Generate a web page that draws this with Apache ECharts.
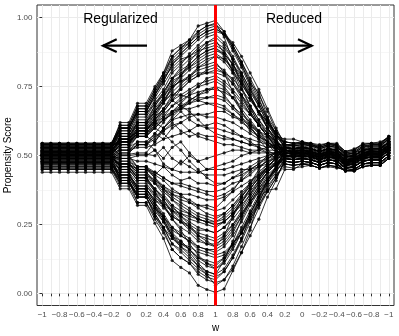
<!DOCTYPE html>
<html>
<head>
<meta charset="utf-8">
<script src="https://cdn.jsdelivr.net/npm/echarts@6/dist/echarts.min.js"></script>
<style>
  html, body { margin: 0; padding: 0; background: #fff; }
  #chart { width: 399px; height: 336px; }
</style>
</head>
<body>
<div id="chart"></div>
<script>
// w goes -1 -> 1 (regularized) then back 1 -> -1 (reduced)
const wValues = ['−1','−0.9','−0.8','−0.7','−0.6','−0.5','−0.4','−0.3','−0.2','−0.1','0','0.1','0.2','0.3','0.4','0.5','0.6','0.7','0.8','0.9','1',
  '0.9','0.8','0.7','0.6','0.5','0.4','0.3','0.2','0.1','0','−0.1','−0.2','−0.3','−0.4','−0.5','−0.6','−0.7','−0.8','−0.9','−1'];
const yTicks = [0, 0.25, 0.5, 0.75, 1];
const yMinor = [0.125, 0.375, 0.625, 0.875];

// propensity score per unit, one value per w step
const p01 = [0.54,0.54,0.54,0.54,0.54,0.54,0.54,0.54,0.54,0.62,0.62,0.69,0.69,0.75,0.80,0.88,0.90,0.92,0.97,0.98,0.99,0.95,0.89,0.83,0.76,0.73,0.64,0.57,0.56,0.56,0.55,0.54,0.53,0.54,0.54,0.50,0.51,0.53,0.54,0.54,0.57];
const p02 = [0.545,0.545,0.545,0.545,0.545,0.545,0.545,0.545,0.545,0.61,0.61,0.68,0.68,0.74,0.79,0.85,0.88,0.91,0.94,0.96,0.97,0.94,0.89,0.83,0.76,0.70,0.64,0.59,0.54,0.535,0.54,0.535,0.525,0.535,0.53,0.505,0.51,0.53,0.535,0.535,0.56];
const p03 = [0.53,0.53,0.53,0.53,0.53,0.53,0.53,0.53,0.53,0.60,0.60,0.66,0.66,0.72,0.78,0.84,0.87,0.90,0.93,0.95,0.96,0.94,0.88,0.82,0.75,0.69,0.63,0.58,0.53,0.525,0.53,0.525,0.515,0.525,0.52,0.50,0.50,0.52,0.525,0.525,0.545];
const p04 = [0.535,0.535,0.535,0.535,0.535,0.535,0.535,0.535,0.535,0.60,0.60,0.66,0.66,0.72,0.77,0.83,0.86,0.89,0.92,0.94,0.95,0.94,0.90,0.84,0.78,0.72,0.66,0.59,0.55,0.545,0.55,0.545,0.54,0.545,0.54,0.515,0.525,0.54,0.545,0.545,0.57];
const p05 = [0.52,0.52,0.52,0.52,0.52,0.52,0.52,0.52,0.52,0.55,0.55,0.59,0.59,0.64,0.69,0.75,0.79,0.84,0.88,0.91,0.93,0.90,0.85,0.79,0.72,0.66,0.60,0.55,0.50,0.495,0.50,0.495,0.485,0.495,0.49,0.465,0.47,0.49,0.495,0.495,0.52];
const p06 = [0.54,0.54,0.54,0.54,0.54,0.54,0.54,0.54,0.54,0.60,0.60,0.66,0.66,0.71,0.76,0.81,0.84,0.86,0.89,0.91,0.92,0.87,0.80,0.72,0.66,0.61,0.57,0.54,0.52,0.515,0.525,0.515,0.505,0.515,0.51,0.485,0.49,0.51,0.52,0.515,0.54];
const p07 = [0.525,0.525,0.525,0.525,0.525,0.525,0.525,0.525,0.525,0.60,0.60,0.67,0.67,0.73,0.78,0.82,0.85,0.86,0.88,0.89,0.90,0.88,0.83,0.78,0.71,0.66,0.60,0.56,0.51,0.505,0.51,0.505,0.495,0.51,0.50,0.475,0.48,0.50,0.505,0.50,0.53];
const p08 = [0.51,0.51,0.51,0.51,0.51,0.51,0.51,0.51,0.51,0.57,0.57,0.62,0.62,0.68,0.72,0.78,0.80,0.82,0.85,0.87,0.88,0.87,0.83,0.79,0.73,0.68,0.62,0.56,0.49,0.485,0.49,0.485,0.475,0.485,0.48,0.455,0.46,0.48,0.485,0.485,0.51];
const p09 = [0.53,0.53,0.53,0.53,0.53,0.53,0.53,0.53,0.53,0.56,0.56,0.59,0.59,0.63,0.67,0.71,0.75,0.78,0.82,0.84,0.86,0.84,0.80,0.76,0.71,0.66,0.62,0.58,0.54,0.535,0.54,0.545,0.525,0.535,0.53,0.505,0.51,0.52,0.535,0.535,0.56];
const p10 = [0.515,0.515,0.515,0.515,0.515,0.515,0.515,0.515,0.515,0.57,0.57,0.62,0.62,0.66,0.70,0.75,0.77,0.79,0.82,0.83,0.84,0.80,0.73,0.66,0.61,0.56,0.52,0.50,0.48,0.475,0.48,0.475,0.465,0.475,0.47,0.445,0.45,0.47,0.475,0.475,0.50];
const p11 = [0.52,0.52,0.52,0.52,0.52,0.52,0.52,0.52,0.52,0.59,0.59,0.65,0.65,0.69,0.72,0.75,0.77,0.78,0.80,0.80,0.81,0.80,0.78,0.74,0.70,0.66,0.62,0.58,0.53,0.525,0.53,0.525,0.515,0.525,0.51,0.495,0.50,0.52,0.525,0.525,0.55];
const p12 = [0.50,0.50,0.50,0.50,0.50,0.50,0.50,0.50,0.50,0.54,0.54,0.59,0.59,0.63,0.66,0.70,0.72,0.74,0.76,0.77,0.78,0.76,0.73,0.69,0.65,0.61,0.57,0.53,0.50,0.495,0.50,0.495,0.485,0.495,0.49,0.465,0.47,0.49,0.495,0.495,0.52];
const p13 = [0.535,0.535,0.535,0.535,0.535,0.535,0.535,0.535,0.535,0.55,0.55,0.57,0.57,0.60,0.63,0.65,0.68,0.70,0.72,0.74,0.75,0.72,0.68,0.64,0.60,0.57,0.55,0.53,0.52,0.515,0.52,0.515,0.505,0.515,0.51,0.485,0.49,0.51,0.515,0.515,0.54];
const p14 = [0.505,0.505,0.505,0.505,0.505,0.505,0.505,0.505,0.505,0.54,0.54,0.57,0.57,0.60,0.63,0.66,0.68,0.69,0.71,0.71,0.72,0.71,0.68,0.65,0.62,0.59,0.56,0.53,0.51,0.505,0.515,0.505,0.495,0.505,0.50,0.475,0.485,0.50,0.505,0.505,0.53];
const p15 = [0.52,0.52,0.52,0.52,0.52,0.52,0.52,0.52,0.52,0.56,0.56,0.60,0.60,0.62,0.64,0.66,0.67,0.67,0.68,0.69,0.69,0.68,0.65,0.63,0.59,0.57,0.54,0.51,0.49,0.485,0.49,0.485,0.475,0.485,0.48,0.455,0.46,0.48,0.485,0.485,0.51];
const p16 = [0.49,0.49,0.49,0.49,0.49,0.49,0.49,0.49,0.49,0.52,0.52,0.54,0.54,0.57,0.59,0.61,0.62,0.64,0.65,0.65,0.66,0.66,0.64,0.63,0.61,0.59,0.57,0.55,0.53,0.525,0.53,0.525,0.515,0.525,0.52,0.495,0.50,0.52,0.525,0.525,0.55];
const p17 = [0.51,0.51,0.51,0.51,0.51,0.51,0.51,0.51,0.51,0.52,0.52,0.53,0.53,0.54,0.56,0.57,0.58,0.59,0.61,0.61,0.62,0.61,0.59,0.57,0.55,0.53,0.51,0.49,0.47,0.465,0.47,0.465,0.455,0.465,0.46,0.445,0.445,0.46,0.465,0.465,0.49];
const p18 = [0.53,0.53,0.53,0.53,0.53,0.53,0.53,0.53,0.53,0.56,0.56,0.60,0.60,0.64,0.67,0.70,0.68,0.66,0.63,0.60,0.58,0.57,0.56,0.55,0.54,0.54,0.53,0.53,0.52,0.515,0.52,0.515,0.505,0.515,0.51,0.485,0.49,0.51,0.515,0.515,0.54];
const p19 = [0.50,0.50,0.50,0.50,0.50,0.50,0.50,0.50,0.50,0.52,0.52,0.55,0.55,0.58,0.56,0.60,0.62,0.59,0.57,0.56,0.55,0.54,0.54,0.53,0.52,0.52,0.51,0.51,0.50,0.495,0.50,0.495,0.485,0.495,0.49,0.465,0.47,0.49,0.495,0.495,0.52];
const p20 = [0.515,0.515,0.515,0.515,0.515,0.515,0.515,0.515,0.515,0.53,0.53,0.55,0.55,0.52,0.49,0.53,0.55,0.51,0.48,0.49,0.50,0.51,0.52,0.52,0.51,0.51,0.51,0.51,0.51,0.505,0.51,0.505,0.495,0.505,0.50,0.475,0.48,0.50,0.505,0.505,0.53];
const p21 = [0.48,0.48,0.48,0.48,0.48,0.48,0.48,0.48,0.48,0.50,0.50,0.505,0.505,0.50,0.53,0.49,0.47,0.50,0.48,0.45,0.46,0.47,0.48,0.50,0.51,0.52,0.53,0.54,0.54,0.535,0.54,0.535,0.525,0.535,0.53,0.505,0.51,0.53,0.535,0.535,0.56];
const p22 = [0.495,0.495,0.495,0.495,0.495,0.495,0.495,0.495,0.495,0.49,0.49,0.48,0.48,0.47,0.46,0.45,0.44,0.44,0.44,0.43,0.43,0.43,0.44,0.45,0.45,0.46,0.47,0.47,0.48,0.475,0.48,0.475,0.465,0.475,0.47,0.445,0.45,0.47,0.475,0.475,0.50];
const p23 = [0.525,0.525,0.525,0.525,0.525,0.525,0.525,0.525,0.525,0.55,0.55,0.58,0.58,0.60,0.58,0.55,0.52,0.48,0.45,0.42,0.40,0.40,0.42,0.43,0.45,0.47,0.49,0.51,0.53,0.525,0.53,0.525,0.515,0.525,0.52,0.495,0.50,0.52,0.525,0.525,0.55];
const p24 = [0.49,0.49,0.49,0.49,0.49,0.49,0.49,0.49,0.49,0.47,0.47,0.45,0.45,0.44,0.42,0.40,0.40,0.39,0.38,0.37,0.37,0.38,0.40,0.41,0.44,0.46,0.48,0.49,0.51,0.51,0.51,0.505,0.495,0.505,0.50,0.475,0.48,0.495,0.505,0.505,0.53];
const p25 = [0.505,0.505,0.505,0.505,0.505,0.505,0.505,0.505,0.505,0.46,0.46,0.43,0.43,0.41,0.39,0.37,0.36,0.36,0.35,0.34,0.34,0.35,0.37,0.39,0.41,0.43,0.45,0.47,0.49,0.485,0.49,0.485,0.475,0.485,0.48,0.455,0.46,0.48,0.485,0.485,0.51];
const p26 = [0.475,0.475,0.475,0.475,0.475,0.475,0.475,0.475,0.475,0.45,0.45,0.42,0.42,0.40,0.38,0.36,0.35,0.34,0.32,0.32,0.31,0.34,0.37,0.42,0.45,0.47,0.50,0.51,0.52,0.515,0.52,0.515,0.505,0.515,0.51,0.485,0.49,0.51,0.515,0.515,0.54];
const p27 = [0.50,0.50,0.50,0.50,0.50,0.50,0.50,0.50,0.50,0.48,0.48,0.46,0.46,0.43,0.41,0.38,0.36,0.33,0.31,0.29,0.28,0.29,0.32,0.35,0.39,0.42,0.45,0.47,0.50,0.495,0.50,0.495,0.485,0.495,0.49,0.465,0.47,0.49,0.495,0.495,0.52];
const p28 = [0.485,0.485,0.485,0.485,0.485,0.485,0.485,0.485,0.485,0.45,0.45,0.41,0.41,0.38,0.35,0.32,0.30,0.29,0.27,0.26,0.25,0.26,0.29,0.32,0.36,0.41,0.45,0.50,0.55,0.545,0.55,0.545,0.535,0.545,0.54,0.515,0.52,0.54,0.545,0.545,0.57];
const p29 = [0.51,0.51,0.51,0.51,0.51,0.51,0.51,0.51,0.51,0.44,0.44,0.38,0.38,0.34,0.31,0.28,0.26,0.25,0.23,0.23,0.22,0.24,0.27,0.31,0.36,0.40,0.44,0.47,0.51,0.505,0.51,0.50,0.495,0.505,0.50,0.475,0.48,0.50,0.51,0.505,0.53];
const p30 = [0.47,0.47,0.47,0.47,0.47,0.47,0.47,0.47,0.47,0.43,0.43,0.39,0.39,0.35,0.32,0.28,0.26,0.24,0.22,0.21,0.20,0.22,0.25,0.29,0.33,0.37,0.41,0.45,0.48,0.475,0.48,0.475,0.465,0.475,0.47,0.445,0.45,0.47,0.475,0.475,0.50];
const p31 = [0.495,0.495,0.495,0.495,0.495,0.495,0.495,0.495,0.495,0.47,0.47,0.44,0.44,0.40,0.36,0.32,0.28,0.25,0.21,0.19,0.17,0.21,0.28,0.35,0.40,0.45,0.49,0.51,0.53,0.525,0.53,0.525,0.515,0.525,0.52,0.495,0.50,0.52,0.525,0.525,0.55];
const p32 = [0.48,0.48,0.48,0.48,0.48,0.48,0.48,0.48,0.48,0.43,0.43,0.38,0.38,0.33,0.29,0.24,0.22,0.20,0.17,0.16,0.15,0.17,0.21,0.26,0.32,0.37,0.42,0.46,0.50,0.495,0.50,0.495,0.485,0.495,0.49,0.465,0.47,0.49,0.495,0.495,0.52];
const p33 = [0.50,0.50,0.50,0.50,0.50,0.50,0.50,0.50,0.50,0.41,0.41,0.33,0.33,0.28,0.24,0.20,0.18,0.17,0.15,0.14,0.13,0.14,0.18,0.22,0.28,0.33,0.40,0.45,0.52,0.515,0.52,0.515,0.505,0.515,0.51,0.485,0.49,0.51,0.515,0.515,0.54];
const p34 = [0.46,0.46,0.46,0.46,0.46,0.46,0.46,0.46,0.46,0.40,0.40,0.35,0.35,0.30,0.26,0.21,0.18,0.16,0.13,0.12,0.11,0.13,0.18,0.23,0.29,0.35,0.40,0.44,0.49,0.485,0.49,0.485,0.475,0.485,0.48,0.455,0.46,0.48,0.485,0.485,0.51];
const p35 = [0.49,0.49,0.49,0.49,0.49,0.49,0.49,0.49,0.49,0.46,0.46,0.42,0.42,0.37,0.32,0.27,0.23,0.18,0.14,0.11,0.09,0.12,0.17,0.22,0.29,0.35,0.41,0.46,0.51,0.505,0.51,0.505,0.495,0.505,0.50,0.475,0.48,0.50,0.505,0.505,0.53];
const p36 = [0.475,0.475,0.475,0.475,0.475,0.475,0.475,0.475,0.475,0.41,0.41,0.35,0.35,0.29,0.24,0.18,0.16,0.13,0.10,0.08,0.07,0.12,0.19,0.27,0.33,0.38,0.42,0.45,0.47,0.465,0.47,0.465,0.455,0.465,0.46,0.445,0.445,0.46,0.465,0.465,0.49];
const p37 = [0.45,0.45,0.45,0.45,0.45,0.45,0.45,0.45,0.45,0.39,0.39,0.33,0.33,0.27,0.22,0.16,0.13,0.11,0.08,0.06,0.05,0.08,0.13,0.20,0.28,0.34,0.41,0.46,0.52,0.515,0.52,0.515,0.505,0.515,0.51,0.485,0.49,0.51,0.515,0.515,0.54];
const p38 = [0.485,0.485,0.485,0.485,0.485,0.485,0.485,0.485,0.485,0.41,0.41,0.35,0.35,0.28,0.23,0.16,0.13,0.11,0.07,0.05,0.04,0.05,0.09,0.15,0.21,0.27,0.35,0.41,0.49,0.485,0.49,0.485,0.475,0.485,0.48,0.455,0.46,0.48,0.485,0.485,0.51];
const p39 = [0.44,0.44,0.44,0.44,0.44,0.44,0.44,0.44,0.44,0.38,0.38,0.32,0.32,0.255,0.20,0.12,0.095,0.075,0.03,0.015,0.005,0.017,0.083,0.148,0.23,0.35,0.375,0.38,0.45,0.45,0.47,0.475,0.465,0.475,0.47,0.455,0.45,0.47,0.47,0.47,0.495];
const p40 = [0.505,0.505,0.505,0.505,0.505,0.505,0.505,0.505,0.505,0.56,0.56,0.62,0.62,0.67,0.71,0.77,0.79,0.82,0.84,0.86,0.87,0.85,0.81,0.76,0.71,0.66,0.61,0.57,0.53,0.525,0.53,0.525,0.515,0.525,0.52,0.495,0.50,0.52,0.525,0.525,0.55];
const p41 = [0.49,0.49,0.49,0.49,0.49,0.49,0.49,0.49,0.49,0.51,0.51,0.54,0.54,0.58,0.62,0.66,0.69,0.72,0.75,0.78,0.79,0.77,0.74,0.70,0.65,0.61,0.57,0.53,0.50,0.495,0.50,0.495,0.485,0.495,0.49,0.465,0.47,0.49,0.495,0.495,0.52];
const p42 = [0.47,0.47,0.47,0.47,0.47,0.47,0.47,0.47,0.47,0.42,0.42,0.38,0.38,0.34,0.32,0.30,0.29,0.28,0.27,0.26,0.26,0.28,0.31,0.35,0.39,0.43,0.47,0.50,0.53,0.525,0.53,0.525,0.515,0.525,0.52,0.495,0.50,0.52,0.525,0.525,0.55];
const p43 = [0.545,0.545,0.545,0.545,0.545,0.545,0.545,0.545,0.545,0.61,0.61,0.68,0.68,0.74,0.80,0.86,0.89,0.92,0.95,0.97,0.98,0.93,0.84,0.75,0.68,0.61,0.57,0.53,0.51,0.505,0.51,0.505,0.495,0.505,0.50,0.475,0.48,0.50,0.505,0.505,0.53];
const p44 = [0.455,0.455,0.455,0.455,0.455,0.455,0.455,0.455,0.455,0.40,0.40,0.36,0.36,0.31,0.28,0.23,0.21,0.19,0.16,0.15,0.14,0.15,0.18,0.22,0.27,0.32,0.37,0.42,0.48,0.475,0.48,0.475,0.465,0.475,0.47,0.445,0.45,0.47,0.475,0.475,0.50];
const q01 = [0.54,0.54,0.54,0.54,0.54,0.54,0.54,0.54,0.54,0.60,0.60,0.67,0.67,0.73,0.79,0.86,0.89,0.91,0.95,0.97,0.975,0.95,0.90,0.84,0.77,0.71,0.63,0.57,0.55,0.545,0.545,0.54,0.535,0.545,0.545,0.515,0.52,0.545,0.545,0.55,0.565];
const q02 = [0.535,0.535,0.535,0.535,0.535,0.535,0.535,0.535,0.535,0.59,0.59,0.65,0.65,0.70,0.74,0.80,0.83,0.87,0.90,0.93,0.94,0.91,0.86,0.80,0.74,0.68,0.62,0.57,0.535,0.53,0.535,0.53,0.52,0.53,0.525,0.50,0.505,0.525,0.53,0.53,0.555];
const q03 = [0.525,0.525,0.525,0.525,0.525,0.525,0.525,0.525,0.525,0.58,0.58,0.64,0.64,0.69,0.73,0.78,0.82,0.85,0.87,0.90,0.91,0.89,0.85,0.80,0.74,0.69,0.63,0.58,0.54,0.54,0.545,0.535,0.53,0.54,0.535,0.51,0.515,0.535,0.54,0.54,0.565];
const q04 = [0.515,0.515,0.515,0.515,0.515,0.515,0.515,0.515,0.515,0.56,0.56,0.61,0.61,0.66,0.71,0.76,0.79,0.83,0.86,0.88,0.89,0.86,0.81,0.74,0.68,0.63,0.58,0.54,0.515,0.51,0.515,0.51,0.50,0.51,0.505,0.48,0.485,0.505,0.51,0.51,0.535];
const q05 = [0.50,0.50,0.50,0.50,0.50,0.50,0.50,0.50,0.50,0.55,0.55,0.60,0.60,0.65,0.70,0.74,0.78,0.81,0.83,0.85,0.86,0.85,0.82,0.77,0.72,0.66,0.60,0.55,0.50,0.50,0.505,0.50,0.49,0.50,0.495,0.47,0.475,0.495,0.50,0.50,0.525];
const q06 = [0.53,0.53,0.53,0.53,0.53,0.53,0.53,0.53,0.53,0.57,0.57,0.61,0.61,0.65,0.69,0.73,0.76,0.79,0.81,0.82,0.83,0.81,0.77,0.72,0.67,0.62,0.58,0.55,0.525,0.52,0.525,0.52,0.51,0.52,0.515,0.49,0.495,0.515,0.52,0.52,0.545];
const q07 = [0.51,0.51,0.51,0.51,0.51,0.51,0.51,0.51,0.51,0.55,0.55,0.59,0.59,0.63,0.67,0.72,0.74,0.77,0.79,0.80,0.80,0.79,0.76,0.72,0.68,0.63,0.59,0.55,0.51,0.505,0.505,0.50,0.49,0.50,0.495,0.47,0.475,0.495,0.505,0.505,0.525];
const q08 = [0.495,0.495,0.495,0.495,0.495,0.495,0.495,0.495,0.495,0.53,0.53,0.57,0.57,0.61,0.64,0.68,0.71,0.73,0.75,0.76,0.77,0.75,0.71,0.66,0.62,0.58,0.55,0.52,0.495,0.49,0.495,0.49,0.48,0.49,0.485,0.46,0.465,0.485,0.49,0.49,0.515];
const q09 = [0.52,0.52,0.52,0.52,0.52,0.52,0.52,0.52,0.52,0.56,0.56,0.59,0.59,0.62,0.65,0.68,0.70,0.72,0.73,0.74,0.74,0.73,0.71,0.68,0.65,0.61,0.58,0.55,0.52,0.515,0.52,0.515,0.505,0.515,0.51,0.485,0.49,0.51,0.515,0.515,0.54];
const q10 = [0.505,0.505,0.505,0.505,0.505,0.505,0.505,0.505,0.505,0.54,0.54,0.58,0.58,0.61,0.63,0.65,0.67,0.69,0.70,0.71,0.71,0.70,0.67,0.64,0.61,0.58,0.55,0.53,0.50,0.50,0.50,0.495,0.485,0.495,0.49,0.465,0.47,0.49,0.495,0.495,0.52];
const q11 = [0.54,0.54,0.54,0.54,0.54,0.54,0.54,0.54,0.54,0.58,0.58,0.62,0.62,0.66,0.70,0.72,0.72,0.71,0.70,0.69,0.68,0.67,0.65,0.62,0.60,0.57,0.55,0.53,0.53,0.52,0.53,0.52,0.51,0.52,0.515,0.49,0.495,0.515,0.52,0.52,0.545];
const q12 = [0.49,0.49,0.49,0.49,0.49,0.49,0.49,0.49,0.49,0.505,0.505,0.51,0.51,0.55,0.60,0.63,0.64,0.65,0.65,0.64,0.64,0.63,0.62,0.60,0.58,0.56,0.54,0.52,0.50,0.495,0.50,0.495,0.485,0.495,0.49,0.465,0.47,0.49,0.495,0.495,0.52];
const q13 = [0.525,0.525,0.525,0.525,0.525,0.525,0.525,0.525,0.525,0.55,0.55,0.58,0.58,0.62,0.60,0.63,0.66,0.63,0.61,0.60,0.60,0.59,0.58,0.57,0.56,0.55,0.54,0.53,0.53,0.525,0.53,0.525,0.515,0.525,0.52,0.495,0.50,0.52,0.525,0.525,0.55];
const q14 = [0.51,0.51,0.51,0.51,0.51,0.51,0.51,0.51,0.51,0.54,0.54,0.57,0.57,0.55,0.59,0.62,0.59,0.57,0.58,0.57,0.57,0.56,0.56,0.55,0.54,0.53,0.52,0.52,0.505,0.50,0.505,0.50,0.49,0.50,0.495,0.47,0.475,0.495,0.50,0.50,0.525];
const q15 = [0.545,0.545,0.545,0.545,0.545,0.545,0.545,0.545,0.545,0.60,0.60,0.66,0.66,0.72,0.77,0.83,0.87,0.90,0.93,0.95,0.96,0.94,0.91,0.86,0.80,0.74,0.67,0.60,0.54,0.54,0.545,0.54,0.53,0.54,0.535,0.51,0.515,0.535,0.54,0.54,0.56];
const q16 = [0.53,0.53,0.53,0.53,0.53,0.53,0.53,0.53,0.53,0.58,0.58,0.63,0.63,0.68,0.73,0.78,0.81,0.83,0.86,0.88,0.89,0.87,0.83,0.77,0.71,0.65,0.60,0.56,0.52,0.515,0.52,0.51,0.50,0.51,0.505,0.48,0.485,0.505,0.51,0.51,0.535];
const q17 = [0.515,0.515,0.515,0.515,0.515,0.515,0.515,0.515,0.515,0.55,0.55,0.58,0.58,0.62,0.66,0.70,0.74,0.77,0.79,0.81,0.82,0.80,0.76,0.71,0.66,0.61,0.57,0.54,0.52,0.51,0.515,0.51,0.50,0.51,0.505,0.48,0.485,0.505,0.51,0.51,0.535];
const q18 = [0.50,0.50,0.50,0.50,0.50,0.50,0.50,0.50,0.50,0.51,0.51,0.54,0.54,0.56,0.60,0.64,0.67,0.70,0.72,0.73,0.75,0.74,0.71,0.67,0.63,0.59,0.55,0.52,0.49,0.485,0.49,0.485,0.475,0.485,0.48,0.455,0.46,0.48,0.485,0.485,0.51];
const q19 = [0.485,0.485,0.485,0.485,0.485,0.485,0.485,0.485,0.485,0.45,0.45,0.41,0.41,0.37,0.34,0.30,0.28,0.26,0.24,0.23,0.22,0.24,0.28,0.33,0.38,0.42,0.46,0.49,0.51,0.505,0.51,0.505,0.495,0.505,0.50,0.475,0.48,0.50,0.505,0.505,0.53];
const q20 = [0.47,0.47,0.47,0.47,0.47,0.47,0.47,0.47,0.47,0.42,0.42,0.37,0.37,0.32,0.28,0.24,0.21,0.19,0.17,0.16,0.16,0.18,0.22,0.28,0.33,0.38,0.43,0.46,0.49,0.485,0.49,0.485,0.475,0.485,0.48,0.455,0.46,0.48,0.485,0.485,0.51];
const q21 = [0.495,0.495,0.495,0.495,0.495,0.495,0.495,0.495,0.495,0.46,0.46,0.42,0.42,0.38,0.34,0.29,0.26,0.23,0.20,0.18,0.18,0.20,0.24,0.29,0.34,0.39,0.44,0.48,0.515,0.51,0.515,0.51,0.50,0.51,0.505,0.48,0.485,0.505,0.51,0.51,0.535];
const q22 = [0.46,0.46,0.46,0.46,0.46,0.46,0.46,0.46,0.46,0.41,0.41,0.36,0.36,0.31,0.27,0.21,0.19,0.16,0.13,0.11,0.10,0.13,0.18,0.24,0.30,0.36,0.41,0.45,0.50,0.495,0.50,0.495,0.485,0.495,0.49,0.465,0.47,0.49,0.495,0.495,0.52];
const q23 = [0.48,0.48,0.48,0.48,0.48,0.48,0.48,0.48,0.48,0.43,0.43,0.38,0.38,0.33,0.28,0.22,0.19,0.16,0.12,0.10,0.09,0.11,0.16,0.22,0.29,0.35,0.41,0.46,0.52,0.515,0.52,0.515,0.505,0.515,0.51,0.485,0.49,0.51,0.515,0.515,0.54];
const q24 = [0.50,0.50,0.50,0.50,0.50,0.50,0.50,0.50,0.50,0.46,0.46,0.42,0.42,0.38,0.35,0.31,0.29,0.27,0.26,0.25,0.24,0.26,0.29,0.33,0.37,0.41,0.45,0.48,0.49,0.485,0.49,0.485,0.475,0.485,0.48,0.455,0.46,0.48,0.485,0.485,0.51];
const q25 = [0.51,0.51,0.51,0.51,0.51,0.51,0.51,0.51,0.51,0.48,0.48,0.45,0.45,0.42,0.39,0.36,0.34,0.33,0.32,0.31,0.30,0.31,0.34,0.37,0.40,0.43,0.46,0.49,0.50,0.50,0.505,0.50,0.49,0.50,0.495,0.47,0.475,0.495,0.50,0.50,0.525];
const q26 = [0.49,0.49,0.49,0.49,0.49,0.49,0.49,0.49,0.49,0.47,0.47,0.44,0.44,0.41,0.38,0.35,0.33,0.31,0.29,0.28,0.27,0.29,0.32,0.36,0.40,0.44,0.47,0.50,0.52,0.51,0.515,0.51,0.50,0.51,0.505,0.48,0.485,0.505,0.51,0.51,0.535];
const q27 = [0.475,0.475,0.475,0.475,0.475,0.475,0.475,0.475,0.475,0.44,0.44,0.40,0.40,0.36,0.32,0.27,0.24,0.22,0.19,0.18,0.17,0.19,0.23,0.28,0.34,0.39,0.44,0.47,0.50,0.495,0.50,0.495,0.485,0.495,0.49,0.465,0.47,0.49,0.495,0.495,0.52];
const q28 = [0.465,0.465,0.465,0.465,0.465,0.465,0.465,0.465,0.465,0.42,0.42,0.37,0.37,0.32,0.27,0.21,0.17,0.15,0.11,0.08,0.07,0.09,0.14,0.20,0.27,0.33,0.39,0.43,0.47,0.465,0.47,0.465,0.455,0.465,0.46,0.445,0.445,0.46,0.465,0.465,0.49];
const q29 = [0.45,0.45,0.45,0.45,0.45,0.45,0.45,0.45,0.45,0.40,0.40,0.35,0.35,0.29,0.24,0.18,0.15,0.12,0.09,0.07,0.03,0.05,0.10,0.17,0.24,0.31,0.37,0.42,0.48,0.475,0.48,0.475,0.465,0.475,0.47,0.445,0.45,0.47,0.475,0.475,0.50];
const q30 = [0.505,0.505,0.505,0.505,0.505,0.505,0.505,0.505,0.505,0.47,0.47,0.43,0.43,0.40,0.37,0.34,0.32,0.30,0.28,0.27,0.26,0.27,0.30,0.34,0.38,0.42,0.46,0.49,0.53,0.525,0.53,0.525,0.515,0.525,0.52,0.495,0.50,0.52,0.525,0.525,0.55];
const q31 = [0.515,0.515,0.515,0.515,0.515,0.515,0.515,0.515,0.515,0.49,0.49,0.46,0.46,0.44,0.42,0.40,0.39,0.38,0.37,0.36,0.35,0.36,0.38,0.41,0.43,0.46,0.48,0.50,0.51,0.51,0.51,0.505,0.495,0.505,0.50,0.475,0.48,0.50,0.505,0.505,0.53];
const q32 = [0.48,0.48,0.48,0.48,0.48,0.48,0.48,0.48,0.48,0.47,0.47,0.45,0.45,0.43,0.46,0.43,0.41,0.42,0.40,0.40,0.39,0.40,0.42,0.44,0.46,0.48,0.49,0.50,0.51,0.505,0.51,0.505,0.495,0.505,0.50,0.475,0.48,0.50,0.505,0.505,0.53];
const q33 = [0.50,0.50,0.50,0.50,0.50,0.50,0.50,0.50,0.50,0.49,0.49,0.50,0.50,0.52,0.47,0.45,0.48,0.46,0.44,0.45,0.45,0.45,0.46,0.47,0.48,0.49,0.50,0.51,0.52,0.515,0.52,0.515,0.505,0.515,0.51,0.485,0.49,0.51,0.515,0.515,0.54];
const q34 = [0.47,0.47,0.47,0.47,0.47,0.47,0.47,0.47,0.47,0.43,0.43,0.39,0.39,0.36,0.33,0.30,0.27,0.24,0.21,0.20,0.19,0.21,0.25,0.30,0.35,0.40,0.44,0.47,0.49,0.485,0.49,0.485,0.475,0.485,0.48,0.455,0.46,0.48,0.485,0.485,0.51];
const q35 = [0.455,0.455,0.455,0.455,0.455,0.455,0.455,0.455,0.455,0.41,0.41,0.36,0.36,0.31,0.26,0.20,0.17,0.14,0.10,0.07,0.06,0.08,0.13,0.19,0.26,0.32,0.38,0.43,0.46,0.455,0.46,0.465,0.455,0.46,0.455,0.45,0.445,0.46,0.465,0.465,0.49];
const q36 = [0.535,0.535,0.535,0.535,0.535,0.535,0.535,0.535,0.535,0.50,0.50,0.46,0.46,0.42,0.38,0.34,0.31,0.29,0.27,0.26,0.25,0.26,0.29,0.33,0.38,0.42,0.46,0.49,0.53,0.525,0.53,0.525,0.515,0.525,0.52,0.495,0.50,0.52,0.525,0.525,0.55];

const units = [p01,p02,p03,p04,p05,p06,p07,p08,p09,p10,p11,p12,p13,p14,p15,p16,p17,p18,p19,p20,p21,p22,
  p23,p24,p25,p26,p27,p28,p29,p30,p31,p32,p33,p34,p35,p36,p37,p38,p39,p40,p41,p42,p43,p44,
  q01,q02,q03,q04,q05,q06,q07,q08,q09,q10,q11,q12,q13,q14,q15,q16,q17,q18,
  q19,q20,q21,q22,q23,q24,q25,q26,q27,q28,q29,q30,q31,q32,q33,q34,q35,q36];

const FONT = "'Liberation Sans', Arial, Helvetica, sans-serif";
const chart = echarts.init(document.getElementById('chart'));

const tickIdx = wValues.map((_, i) => i);
const labelIdx = tickIdx.filter(i => i % 2 === 0);
const peakIdx = wValues.indexOf('1');

const lineSeries = units.map(u => ({
  type: 'line',
  data: u.map((v, i) => [i, v]),
  showSymbol: false,
  silent: true,
  lineStyle: { color: '#000', width: 0.8 },
  z: 2
}));

const points = [];
units.forEach(u => u.forEach((v, i) => points.push([i, v])));

const arrowStyle = { stroke: '#000', lineWidth: 2.2, fill: null };

const option = {
  animation: false,
  backgroundColor: '#fff',
  grid: {
    left: 37, right: 5, top: 5, bottom: 30.5,
    show: true, borderColor: '#333', borderWidth: 1,
    outerBoundsMode: 'none'
  },
  xAxis: {
    type: 'value', min: -0.6, max: 40.6,
    axisLine: { show: false },
    axisTick: { customValues: tickIdx, length: 2.7, lineStyle: { color: '#333', width: 1 } },
    axisLabel: {
      customValues: labelIdx,
      formatter: v => wValues[v],
      color: '#4d4d4d', fontSize: 8, fontFamily: FONT, margin: 5
    },
    splitLine: { show: true, lineStyle: { color: '#ebebeb', width: 1 } },
    name: 'w', nameLocation: 'middle', nameGap: 13,
    nameTextStyle: { color: '#000', fontSize: 10, fontFamily: FONT }
  },
  yAxis: [{
    type: 'value', min: -0.043, max: 1.046, position: 'left',
    axisLine: { show: false },
    axisTick: { customValues: yTicks, length: 2.7, lineStyle: { color: '#333', width: 1 } },
    axisLabel: {
      customValues: yTicks,
      formatter: v => v.toFixed(2),
      color: '#4d4d4d', fontSize: 8, fontFamily: FONT, margin: 4.5
    },
    splitLine: { show: true, lineStyle: { color: '#ebebeb', width: 1 } },
    name: 'Propensity Score', nameLocation: 'middle', nameGap: 24, nameMoveOverlap: false,
    nameTextStyle: { color: '#000', fontSize: 10, fontFamily: FONT }
  }, {
    type: 'value', min: -0.043, max: 1.046, position: 'left',
    axisLine: { show: false },
    axisTick: { show: false, customValues: yMinor },
    axisLabel: { show: false },
    splitLine: { show: true, lineStyle: { color: '#f0f0f0', width: 0.6 } }
  }],
  series: lineSeries.concat([
    {
      type: 'line', data: [], silent: true, z: 3,
      markLine: {
        silent: true, symbol: 'none', label: { show: false },
        lineStyle: { color: '#ff0000', width: 3, type: 'solid' },
        data: [{ xAxis: peakIdx }]
      }
    },
    {
      type: 'scatter', data: points, symbolSize: 3.2, silent: true, z: 4,
      itemStyle: { color: '#000' }
    }
  ]),
  graphic: [
    { type: 'text', x: 120.5, y: 19.5, z: 100, silent: true,
      style: { text: 'Regularized', font: '14px ' + FONT, fill: '#000',
        align: 'center', verticalAlign: 'middle', textAlign: 'center', textVerticalAlign: 'middle' } },
    { type: 'text', x: 294, y: 19.5, z: 100, silent: true,
      style: { text: 'Reduced', font: '14px ' + FONT, fill: '#000',
        align: 'center', verticalAlign: 'middle', textAlign: 'center', textVerticalAlign: 'middle' } },
    { type: 'polyline', z: 100, silent: true, shape: { points: [[103, 45.7], [147, 45.7]] }, style: arrowStyle },
    { type: 'polyline', z: 100, silent: true, shape: { points: [[116.7, 39.3], [103, 45.7], [116.7, 52.1]] }, style: arrowStyle },
    { type: 'polyline', z: 100, silent: true, shape: { points: [[268.3, 45.7], [311.7, 45.7]] }, style: arrowStyle },
    { type: 'polyline', z: 100, silent: true, shape: { points: [[298, 39.3], [311.7, 45.7], [298, 52.1]] }, style: arrowStyle }
  ]
};

chart.setOption(option);
</script>
</body>
</html>
